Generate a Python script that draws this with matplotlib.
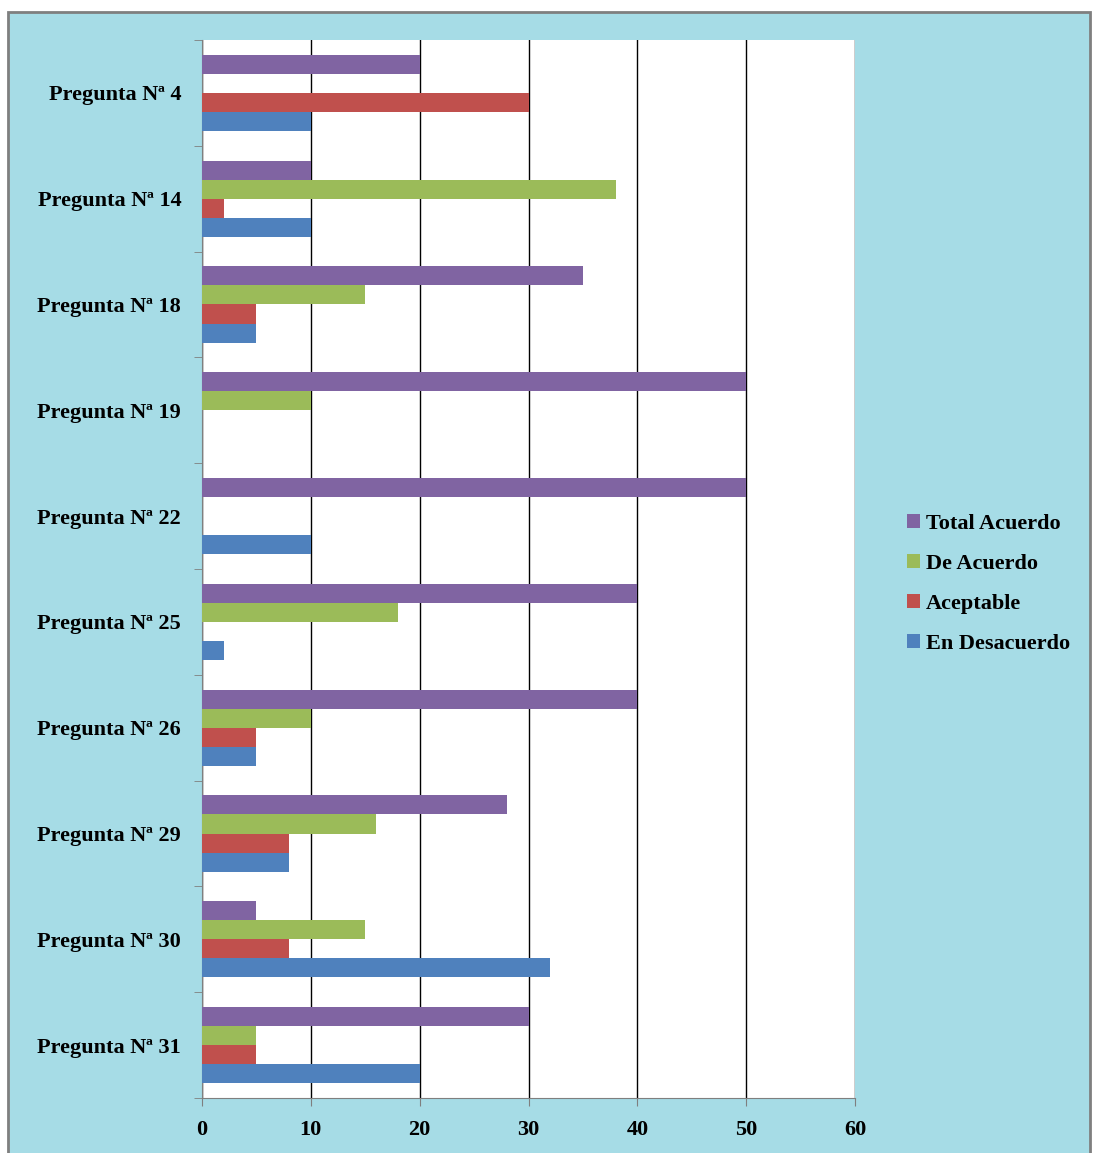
import matplotlib
matplotlib.use("Agg")
from matplotlib import pyplot as plt
from matplotlib.patches import Rectangle
import numpy as np

preguntas = ["Pregunta Nª 4", "Pregunta Nª 14", "Pregunta Nª 18", "Pregunta Nª 19",
             "Pregunta Nª 22", "Pregunta Nª 25", "Pregunta Nª 26", "Pregunta Nª 29",
             "Pregunta Nª 30", "Pregunta Nª 31"]

en_desacuerdo = [10, 10, 5, 0, 10, 2, 5, 8, 32, 20]
aceptable = [30, 2, 5, 0, 0, 0, 5, 8, 8, 5]
de_acuerdo = [0, 38, 15, 10, 0, 18, 10, 16, 15, 5]
total_acuerdo = [20, 10, 35, 50, 50, 40, 40, 28, 5, 30]

series = [
    ("En Desacuerdo", en_desacuerdo, "#4F81BD"),
    ("Aceptable", aceptable, "#C0504D"),
    ("De Acuerdo", de_acuerdo, "#9BBB59"),
    ("Total Acuerdo", total_acuerdo, "#8064A2"),
]

plt.rcParams["font.family"] = ["Liberation Serif", "DejaVu Serif"]
plt.rcParams["font.weight"] = "bold"

fig = plt.figure(figsize=(10.95, 11.53), dpi=100, facecolor="white")

# light blue backdrop with grey frame
fig.patches.append(Rectangle((8 / 1095, -0.01), 1082 / 1095, 1 - 12 / 1153 + 0.01,
                             transform=fig.transFigure, facecolor="#a6dce6",
                             edgecolor="#7f7f7f", linewidth=2, zorder=-5))

ax = fig.add_axes([202 / 1095, 1 - 1098 / 1153, 653 / 1095, 1058 / 1153])
ax.set_facecolor("white")

y = np.arange(len(preguntas))
h = 0.18
for i, (name, vals, color) in enumerate(series):
    # first series sits at the bottom of each group
    offset = (1.5 - i) * h
    ax.barh(y + offset, vals, height=h, color=color, label=name, zorder=3)

ax.set_ylim(len(preguntas) - 0.5, -0.5)
ax.set_xlim(0, 60)
ax.set_xticks(range(0, 61, 10))
ax.set_yticks(y)
ax.set_yticklabels(preguntas)
ax.set_yticks(np.arange(-0.5, len(preguntas)), minor=True)
ax.tick_params(axis="y", which="major", length=0, pad=15, labelsize=16)
ax.tick_params(axis="y", which="minor", length=6, color="#7f7f7f", direction="out")
ax.tick_params(axis="x", length=6, color="#7f7f7f", direction="out", pad=10, labelsize=16)

ax.grid(axis="x", color="black", linewidth=1, zorder=1)
for side in ["top", "right"]:
    ax.spines[side].set_visible(False)
for side in ["left", "bottom"]:
    ax.spines[side].set_color("#7f7f7f")

handles, labels = ax.get_legend_handles_labels()
fig.legend(handles[::-1], labels[::-1], loc="center left",
           bbox_to_anchor=(0.81, 1 - 584 / 1153), frameon=False,
           fontsize=16, handlelength=0.6, handleheight=0.6,
           handletextpad=0.25, labelspacing=0.9)

fig.savefig("out.png", dpi=100, facecolor=fig.get_facecolor())
